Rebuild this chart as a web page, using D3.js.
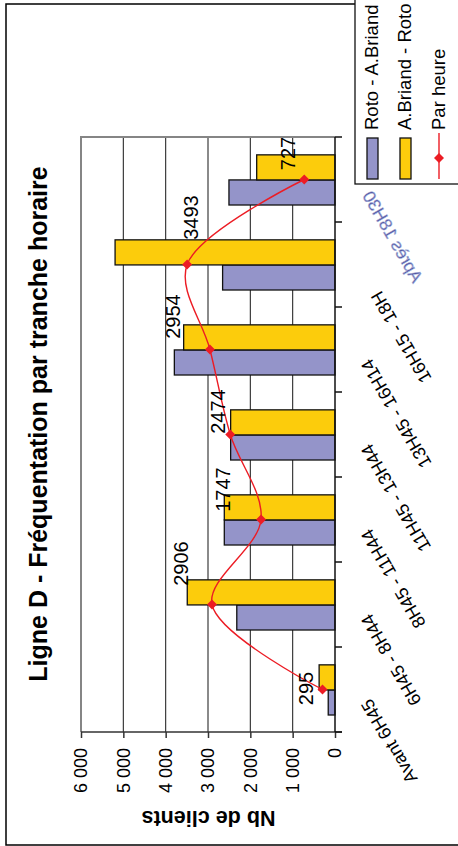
<!DOCTYPE html>
<html>
<head>
<meta charset="utf-8">
<script src="https://cdn.jsdelivr.net/npm/d3@7"></script>
<style>
  html, body { margin: 0; padding: 0; background: #fff; }
  svg { display: block; font-family: "Liberation Sans", Arial, sans-serif; }
</style>
</head>
<body>
<svg id="chart" width="458" height="846"></svg>
<script>
// ---- data ----
const categories = ["Avant 6H45", "6H45 - 8H44", "8H45 - 11H44", "11H45 - 13H44", "13H45 - 16H14", "16H15 - 18H", "Après 18H30"];
const seriesNames = ["Roto - A.Briand", "A.Briand - Roto"];
const rotoBriand = [160, 2320, 2615, 2465, 3795, 2655, 2505];
const briandRoto = [375, 3490, 2615, 2465, 3575, 5195, 1850];
const lineName = "Par heure";
const parHeure = [295, 2906, 1747, 2474, 2954, 3493, 727];
const valueTicks = [0, 1000, 2000, 3000, 4000, 5000, 6000];
const titleText = "Ligne D - Fréquentation par tranche horaire";
const yTitle = "Nb de clients";

// ---- layout (original, unrotated frame 846 x 458) ----
const W = 846;
const colors = ["#9494c9", "#fccc0c"];
const red = "#ec1c24";
const labelOffsets = [[1, -10], [41, -24], [30, -31], [23, -5], [33, -30], [47, 11], [26, -9]];
const catLabelShift = [0, 0, 0, 0, 0, -20, 0];

const svg = d3.select("#chart");
svg.append("rect").attr("width", 458).attr("height", 846).attr("fill", "#fff");
const g = svg.append("g").attr("transform", `translate(0,${W}) rotate(-90)`);

// outer border
g.append("rect").attr("x", 1).attr("y", 6).attr("width", 841).attr("height", 480)
  .attr("fill", "none").attr("stroke", "#000").attr("stroke-width", 1.5);

const x = d3.scaleBand().domain(categories).range([114, 709]).padding(0);
const bw = x.bandwidth();
const x1 = d3.scaleBand().domain(seriesNames).range([bw * 0.2, bw * 0.79]).padding(0);
const y = d3.scaleLinear().domain([0, 6000]).range([335, 81]);

// gridlines
g.append("g").selectAll("line").data(valueTicks.filter(d => d > 0 && d < 6000)).join("line")
  .attr("x1", 114).attr("x2", 709).attr("y1", d => y(d)).attr("y2", d => y(d))
  .attr("stroke", "#2a2a2a").attr("stroke-width", 1.1);
// plot area border (gray)
g.append("path").attr("d", `M114,${y(6000)}H709V${y(0)}`)
  .attr("fill", "none").attr("stroke", "#858585").attr("stroke-width", 2);

// bars
const seriesData = [rotoBriand, briandRoto];
seriesData.forEach((vals, si) => {
  g.append("g").selectAll("rect").data(vals).join("rect")
    .attr("x", (d, i) => x(categories[i]) + x1(seriesNames[si]))
    .attr("width", x1.bandwidth())
    .attr("y", d => y(d))
    .attr("height", d => y(0) - y(d))
    .attr("fill", colors[si])
    .attr("stroke", "#111").attr("stroke-width", 1.3);
});

// value axis
const yAxis = d3.axisLeft(y).tickValues(valueTicks)
  .tickFormat(d => d3.format(",")(d).replace(/,/g, " "))
  .tickSize(6).tickPadding(10);
const ya = g.append("g").attr("transform", "translate(114,0)").call(yAxis);
ya.select(".domain").attr("stroke", "#333").attr("stroke-width", 1.5).attr("d", "M0,81V342");
ya.selectAll(".tick line").attr("stroke", "#333").attr("stroke-width", 1.5);
ya.selectAll(".tick text").attr("font-size", 18).attr("fill", "#000")
  .attr("font-family", "Liberation Sans, Arial, sans-serif");

// category axis
g.append("line").attr("x1", 114).attr("x2", 709).attr("y1", y(0)).attr("y2", y(0))
  .attr("stroke", "#111").attr("stroke-width", 1.5);
const bounds = categories.map(c => x(c)).concat([x(categories[categories.length - 1]) + bw]);
g.append("g").selectAll("line").data(bounds).join("line")
  .attr("x1", d => d).attr("x2", d => d).attr("y1", y(0)).attr("y2", y(0) + 7)
  .attr("stroke", "#111").attr("stroke-width", 1.5);

categories.forEach((c, i) => {
  const cx = x(c) + bw / 2;
  if (i < categories.length - 1) {
    g.append("text")
      .attr("transform", `translate(${cx - 8},${y(0) + 36}) rotate(-30)`)
      .attr("dx", catLabelShift[i])
      .attr("text-anchor", "end").attr("font-size", 18).attr("fill", "#000")
      .text(c);
  } else {
    g.append("text")
      .attr("transform", `translate(${cx - 16},${y(0) + 27}) rotate(-30) scale(1,-1)`)
      .attr("text-anchor", "end").attr("font-size", 17.5).attr("fill", "#55559e")
      .attr("stroke", "#a8b8e0").attr("stroke-width", 0.5)
      .text(c);
  }
});

// line
const line = d3.line()
  .x((d, i) => x(categories[i]) + bw / 2)
  .y(d => y(d))
  .curve(d3.curveCatmullRom.alpha(0.5));
g.append("path").datum(parHeure).attr("d", line)
  .attr("fill", "none").attr("stroke", red).attr("stroke-width", 1.4);
g.append("g").selectAll("path").data(parHeure).join("path")
  .attr("transform", (d, i) => `translate(${x(categories[i]) + bw / 2},${y(d)})`)
  .attr("d", "M0,-5L5,0L0,5L-5,0Z").attr("fill", red);

// data labels
g.append("g").selectAll("text").data(parHeure).join("text")
  .attr("x", (d, i) => x(categories[i]) + bw / 2 + labelOffsets[i][0])
  .attr("y", (d, i) => y(d) + labelOffsets[i][1])
  .attr("text-anchor", "middle").attr("font-size", 20).attr("fill", "#000")
  .text(d => d);

// titles
g.append("text").attr("x", 422).attr("y", 47).attr("text-anchor", "middle")
  .attr("font-size", 25).attr("font-weight", "bold").text(titleText);
g.append("text").attr("transform", "translate(35,208.5) rotate(-90)")
  .attr("text-anchor", "middle").attr("font-size", 21.5).attr("font-weight", "bold")
  .text(yTitle);

// legend
const lg = g.append("g");
lg.append("rect").attr("x", 662).attr("y", 355).attr("width", 200).attr("height", 130)
  .attr("fill", "#fff").attr("stroke", "#111").attr("stroke-width", 1.3);
const legendRows = [378, 411, 445];
seriesNames.forEach((s, i) => {
  lg.append("rect").attr("x", 667).attr("y", legendRows[i] - 11).attr("width", 41).attr("height", 11)
    .attr("fill", colors[i]).attr("stroke", "#111").attr("stroke-width", 1.3);
  lg.append("text").attr("x", 716).attr("y", legendRows[i]).attr("font-size", 18.5).text(s);
});
lg.append("line").attr("x1", 667).attr("x2", 713).attr("y1", legendRows[2] - 6).attr("y2", legendRows[2] - 6)
  .attr("stroke", red).attr("stroke-width", 1.4);
lg.append("path").attr("transform", `translate(688,${legendRows[2] - 6})`)
  .attr("d", "M0,-5L5,0L0,5L-5,0Z").attr("fill", red);
lg.append("text").attr("x", 716).attr("y", legendRows[2]).attr("font-size", 18.5).text(lineName);
</script>
</body>
</html>
